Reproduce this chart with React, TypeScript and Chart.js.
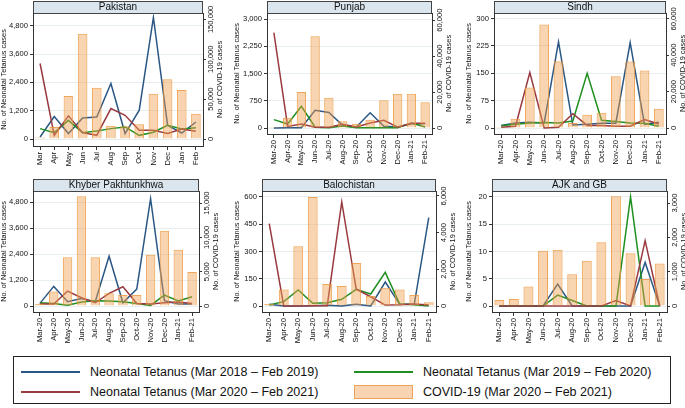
import React, { useEffect, useRef } from "react";
import { Chart, registerables } from "chart.js";
Chart.register(...registerables);

const FONT = "'Liberation Sans', Arial, Helvetica, sans-serif";

const monthsShort = ["Mar", "Apr", "May", "Jun", "Jul", "Aug", "Sep", "Oct", "Nov", "Dec", "Jan", "Feb"];
const monthsYear = ["Mar-20", "Apr-20", "May-20", "Jun-20", "Jul-20", "Aug-20", "Sep-20", "Oct-20", "Nov-20", "Dec-20", "Jan-21", "Feb-21"];

// Pakistan
const pakNT1819 = [85, 950, 230, 890, 935, 2350, 230, 1220, 5150, 580, 255, 720];
const pakNT1920 = [440, 270, 790, 270, 340, 440, 510, 155, 285, 580, 425, 480];
const pakNT2021 = [3200, 155, 980, 270, 155, 1290, 1005, 370, 370, 230, 425, 325];
const pakCovid = [2000, 15000, 54000, 132000, 64400, 16700, 15900, 18400, 56800, 74800, 61400, 31800];
const pakLeftTicks = [0, 1200, 2400, 3600, 4800];
const pakRightTicks = [0, 50000, 100000, 150000];

// Punjab
const punNT1819 = [0, 5, 10, 490, 430, 75, 30, 420, 45, 30, 120, 120];
const punNT1920 = [230, 110, 600, 20, 10, 55, 10, 10, 5, 10, 140, 30];
const punNT2021 = [2630, 45, 110, 20, 20, 100, 30, 140, 210, 20, 130, 130];
const punCovid = [560, 5760, 20000, 51100, 16900, 3700, 2400, 4600, 15400, 19100, 19100, 14300];
const punLeftTicks = [0, 750, 1500, 2250, 3000];
const punRightTicks = [0, 20000, 40000, 60000];

// Sindh
const sinNT1819 = [7, 14, 16, 14, 236, 8, 10, 13, 13, 234, 10, 16];
const sinNT1920 = [6, 10, 14, 15, 14, 19, 150, 21, 18, 14, 13, 5];
const sinNT2021 = [2, 5, 152, 0, 2, 39, 7, 7, 5, 5, 23, 11];
const sinCovid = [550, 5100, 22200, 56900, 36700, 2750, 7300, 8400, 28400, 36500, 31600, 10600];
const sinLeftTicks = [0, 75, 150, 225, 300];
const sinRightTicks = [0, 20000, 40000, 60000];

// Khyber Pakhtunkhwa
const kpkNT1819 = [120, 905, 200, 350, 200, 2300, 150, 780, 4950, 245, 90, 90];
const kpkNT1920 = [150, 120, 30, 180, 245, 230, 200, 120, 30, 500, 230, 430];
const kpkNT2021 = [90, 90, 690, 380, 150, 580, 890, 120, 90, 150, 180, 110];
const kpkCovid = [290, 2100, 7100, 16000, 7100, 1850, 1600, 1600, 7450, 10950, 8180, 4970];
const kpkLeftTicks = [0, 1200, 2400, 3600, 4800];
const kpkRightTicks = [0, 5000, 10000, 15000];

// Balochistan
const balNT1819 = [9, 0, 0, 2, 4, 0, 9, 0, 132, 9, 9, 487];
const balNT1920 = [5, 24, 88, 15, 18, 37, 92, 66, 185, 11, 7, 0];
const balNT2021 = [454, 0, 0, 2, 2, 573, 92, 51, 5, 7, 11, 5];
const balCovid = [110, 900, 3260, 5940, 1200, 1090, 2340, 550, 1000, 900, 600, 200];
const balLeftTicks = [0, 150, 300, 450, 600];
const balRightTicks = [0, 2000, 4000, 6000];

// AJK and GB
const ajkNT1819 = [0, 0, 0, 0, 4, 0, 0, 0, 0, 0, 8, 0];
const ajkNT1920 = [0, 0, 0, 0, 2, 1, 0, 0, 0, 20, 0, 0];
const ajkNT2021 = [0, 0, 0, 0, 0, 0, 0, 0, 1, 0, 12, 0];
const ajkCovid = [175, 205, 565, 1607, 1636, 925, 1315, 1860, 3195, 1540, 790, 1237];
const ajkLeftTicks = [0, 5, 10, 15, 20];
const ajkRightTicks = [0, 1000, 2000, 3000];

const BLUE = "#2b5784";
const RED = "#993a40";
const GREEN = "#1f8f1f";
const BAR_FILL = "rgba(240,160,80,0.45)";
const BAR_BORDER = "rgba(236,150,60,0.85)";
const AXIS = "#333";
const TICK_SIZE = 7.6;
const TITLE_SIZE = 7.4;

const fmt = (v: number) => Number(v).toLocaleString("en-US");

type Panel = {
  title: string;
  labels: string[];
  blue: number[];
  green: number[];
  red: number[];
  covid: number[];
  leftTicks: number[];
  rightTicks: number[];
  leftTop: number;
  rightTop: number;
  gap: number;
  x: number;
  y: number;
  w: number;
  h: number;
  leftW: number;
  rightW: number;
  xH: number;
  padTop: number;
};

const panels: Panel[] = [
  { title: "Pakistan", labels: monthsShort, blue: pakNT1819, green: pakNT1920, red: pakNT2021, covid: pakCovid,
    leftTicks: pakLeftTicks, rightTicks: pakRightTicks, leftTop: 5340, rightTop: 158000, gap: 7 / 126,
    x: 0, y: 0, w: 228, h: 168, leftW: 33, rightW: 25, xH: 22, padTop: 1 },
  { title: "Punjab", labels: monthsYear, blue: punNT1819, green: punNT1920, red: punNT2021, covid: punCovid,
    leftTicks: punLeftTicks, rightTicks: punRightTicks, leftTop: 3170, rightTop: 64000, gap: 6 / 115,
    x: 233, y: 0, w: 222, h: 168, leftW: 34, rightW: 23, xH: 34, padTop: 1 },
  { title: "Sindh", labels: monthsYear, blue: sinNT1819, green: sinNT1920, red: sinNT2021, covid: sinCovid,
    leftTicks: sinLeftTicks, rightTicks: sinRightTicks, leftTop: 315, rightTop: 63200, gap: 6 / 115,
    x: 465, y: 0, w: 220, h: 168, leftW: 29, rightW: 19, xH: 34, padTop: 1 },
  { title: "Khyber Pakhtunkhwa", labels: monthsYear, blue: kpkNT1819, green: kpkNT1920, red: kpkNT2021, covid: kpkCovid,
    leftTicks: kpkLeftTicks, rightTicks: kpkRightTicks, leftTop: 5308, rightTop: 16750, gap: 6 / 115,
    x: 0, y: 168, w: 228, h: 182, leftW: 33, rightW: 29, xH: 38, padTop: 11 },
  { title: "Balochistan", labels: monthsYear, blue: balNT1819, green: balNT1920, red: balNT2021, covid: balCovid,
    leftTicks: balLeftTicks, rightTicks: balRightTicks, leftTop: 633, rightTop: 6270, gap: 6 / 115,
    x: 233, y: 168, w: 222, h: 182, leftW: 29, rightW: 19, xH: 38, padTop: 11 },
  { title: "AJK and GB", labels: monthsYear, blue: ajkNT1819, green: ajkNT1920, red: ajkNT2021, covid: ajkCovid,
    leftTicks: ajkLeftTicks, rightTicks: ajkRightTicks, leftTop: 21.1, rightTop: 3350, gap: 6 / 115,
    x: 465, y: 168, w: 220, h: 182, leftW: 27, rightW: 18, xH: 38, padTop: 11 },
];

const titleBarPlugin = {
  id: "titleBar",
  beforeDraw(chart: any) {
    const tb = chart.titleBlock;
    const ca = chart.chartArea;
    if (!tb || !ca) return;
    const ctx = chart.ctx;
    ctx.save();
    ctx.fillStyle = "#dbe5ed";
    ctx.fillRect(ca.left, tb.top, ca.right - ca.left, tb.bottom - tb.top);
    ctx.strokeStyle = "#444";
    ctx.lineWidth = 1;
    ctx.strokeRect(Math.round(ca.left) + 0.5, Math.round(tb.top) + 0.5, Math.round(ca.right - ca.left) - 1, Math.round(tb.bottom - tb.top));
    ctx.restore();
  },
};

const rightAxisPlugin = {
  id: "rightAxisText",
  afterDraw(chart: any) {
    const s = chart.scales.y2;
    if (!s) return;
    const ctx = chart.ctx;
    ctx.save();
    ctx.fillStyle = "#111";
    ctx.textAlign = "center";
    ctx.textBaseline = "middle";
    ctx.font = `${TICK_SIZE}px ${FONT}`;
    s.ticks.forEach((t: any) => {
      const y = s.getPixelForValue(t.value);
      ctx.save();
      ctx.translate(s.left + 7.5, y);
      ctx.rotate(-Math.PI / 2);
      ctx.fillText(fmt(t.value), 0, 0);
      ctx.restore();
    });
    ctx.font = `${TITLE_SIZE}px ${FONT}`;
    const cy = (chart.chartArea.top + chart.chartArea.bottom) / 2;
    ctx.translate(s.left + 16.5, cy);
    ctx.rotate(-Math.PI / 2);
    ctx.fillText("No. of COVID-19 cases", 0, 0);
    ctx.restore();
  },
};

function PanelChart({ p }: { p: Panel }) {
  const ref = useRef<HTMLCanvasElement | null>(null);
  useEffect(() => {
    if (!ref.current) return;
    const leftMin = -p.leftTop * p.gap;
    const rightMin = -p.rightTop * p.gap;
    const chart = new Chart(ref.current, {
      type: "bar",
      data: {
        labels: p.labels,
        datasets: [
          { type: "bar", label: "COVID-19 (Mar 2020 – Feb 2021)", data: p.covid, yAxisID: "y2",
            backgroundColor: BAR_FILL, borderColor: BAR_BORDER, borderWidth: 1,
            barPercentage: 0.68, categoryPercentage: 1, order: 0 } as any,
          { type: "line", label: "Neonatal Tetanus (Mar 2020 – Feb 2021)", data: p.red, yAxisID: "y",
            borderColor: RED, backgroundColor: RED, borderWidth: 1.5, pointRadius: 0, tension: 0, order: 1 } as any,
          { type: "line", label: "Neonatal Tetanus (Mar 2019 – Feb 2020)", data: p.green, yAxisID: "y",
            borderColor: GREEN, backgroundColor: GREEN, borderWidth: 1.5, pointRadius: 0, tension: 0, order: 2 } as any,
          { type: "line", label: "Neonatal Tetanus (Mar 2018 – Feb 2019)", data: p.blue, yAxisID: "y",
            borderColor: BLUE, backgroundColor: BLUE, borderWidth: 1.5, pointRadius: 0, tension: 0, order: 3 } as any,
        ],
      },
      options: {
        animation: false,
        responsive: false,
        maintainAspectRatio: false,
        layout: { padding: { top: p.padTop, left: 0, right: 0, bottom: 0 } },
        plugins: {
          legend: { display: false },
          tooltip: { enabled: false },
          title: {
            display: true,
            text: p.title,
            color: "#111",
            font: { family: FONT, size: 10, weight: "normal", lineHeight: 1.2 },
            padding: 0,
            fullSize: false,
          } as any,
        },
        scales: {
          x: {
            type: "category",
            offset: true,
            grid: { display: true, drawOnChartArea: false, drawTicks: true, tickLength: 4, offset: false, tickColor: AXIS },
            border: { display: true, color: AXIS, width: 1 },
            ticks: { minRotation: 90, maxRotation: 90, autoSkip: false, color: "#111", padding: 2, font: { family: FONT, size: TICK_SIZE } },
            afterFit: (s: any) => { s.height = p.xH; },
          },
          y: {
            position: "left",
            min: leftMin,
            max: p.leftTop,
            afterBuildTicks: (s: any) => { s.ticks = p.leftTicks.map((v) => ({ value: v })); },
            ticks: { callback: (v: any) => fmt(v), color: "#111", padding: 2, font: { family: FONT, size: TICK_SIZE } },
            grid: { color: "#e6eef1", lineWidth: 1, tickColor: AXIS, tickLength: 3, drawTicks: true },
            border: { display: true, color: AXIS, width: 1 },
            title: { display: true, text: "No. of Neonatal Tetanus cases", color: "#111", padding: 0, font: { family: FONT, size: TITLE_SIZE } },
            afterFit: (s: any) => { s.width = p.leftW; },
          },
          y2: {
            position: "right",
            min: rightMin,
            max: p.rightTop,
            afterBuildTicks: (s: any) => { s.ticks = p.rightTicks.map((v) => ({ value: v })); },
            ticks: { display: false },
            grid: { drawOnChartArea: false, tickColor: AXIS, tickLength: 3, drawTicks: true },
            border: { display: true, color: AXIS, width: 1 },
            afterFit: (s: any) => { s.width = p.rightW; },
          },
        } as any,
      },
      plugins: [titleBarPlugin, rightAxisPlugin],
    } as any);
    return () => chart.destroy();
  }, [p]);
  return (
    <div style={{ position: "absolute", left: p.x, top: p.y, width: p.w, height: p.h }}>
      <canvas ref={ref} width={p.w} height={p.h} style={{ width: p.w, height: p.h, display: "block" }} />
    </div>
  );
}

const legendItems = [
  { kind: "line", color: BLUE, text: "Neonatal Tetanus (Mar 2018 – Feb 2019)", col: 0, row: 0 },
  { kind: "line", color: GREEN, text: "Neonatal Tetanus (Mar 2019 – Feb 2020)", col: 1, row: 0 },
  { kind: "line", color: RED, text: "Neonatal Tetanus (Mar 2020 – Feb 2021)", col: 0, row: 1 },
  { kind: "box", color: BAR_FILL, text: "COVID-19 (Mar 2020 – Feb 2021)", col: 1, row: 1 },
];

function Legend() {
  const colX = [7, 340];
  const rowY = [15, 35];
  return (
    <div style={{ position: "absolute", left: 13, top: 356, width: 658, height: 48, border: "1px solid #222",
      boxSizing: "border-box", background: "#fff", fontFamily: FONT, fontSize: 12.5, color: "#111" }}>
      {legendItems.map((it, i) => (
        <React.Fragment key={i}>
          {it.kind === "line" ? (
            <div style={{ position: "absolute", left: colX[it.col], top: rowY[it.row] - 1, width: 59, height: 2, background: it.color }} />
          ) : (
            <div style={{ position: "absolute", left: colX[it.col], top: rowY[it.row] - 7, width: 59, height: 14,
              background: "#f8d4b0", border: "1px solid #eea35a", boxSizing: "border-box" }} />
          )}
          <div style={{ position: "absolute", left: colX[it.col] + 69, top: rowY[it.row] - 8, height: 16, lineHeight: "16px", whiteSpace: "nowrap" }}>
            {it.text}
          </div>
        </React.Fragment>
      ))}
    </div>
  );
}

export default function App() {
  return (
    <div style={{ position: "absolute", left: 0, top: 0, width: 685, height: 408, background: "#fff", overflow: "hidden" }}>
      {panels.map((p) => (
        <PanelChart key={p.title} p={p} />
      ))}
      <Legend />
    </div>
  );
}
